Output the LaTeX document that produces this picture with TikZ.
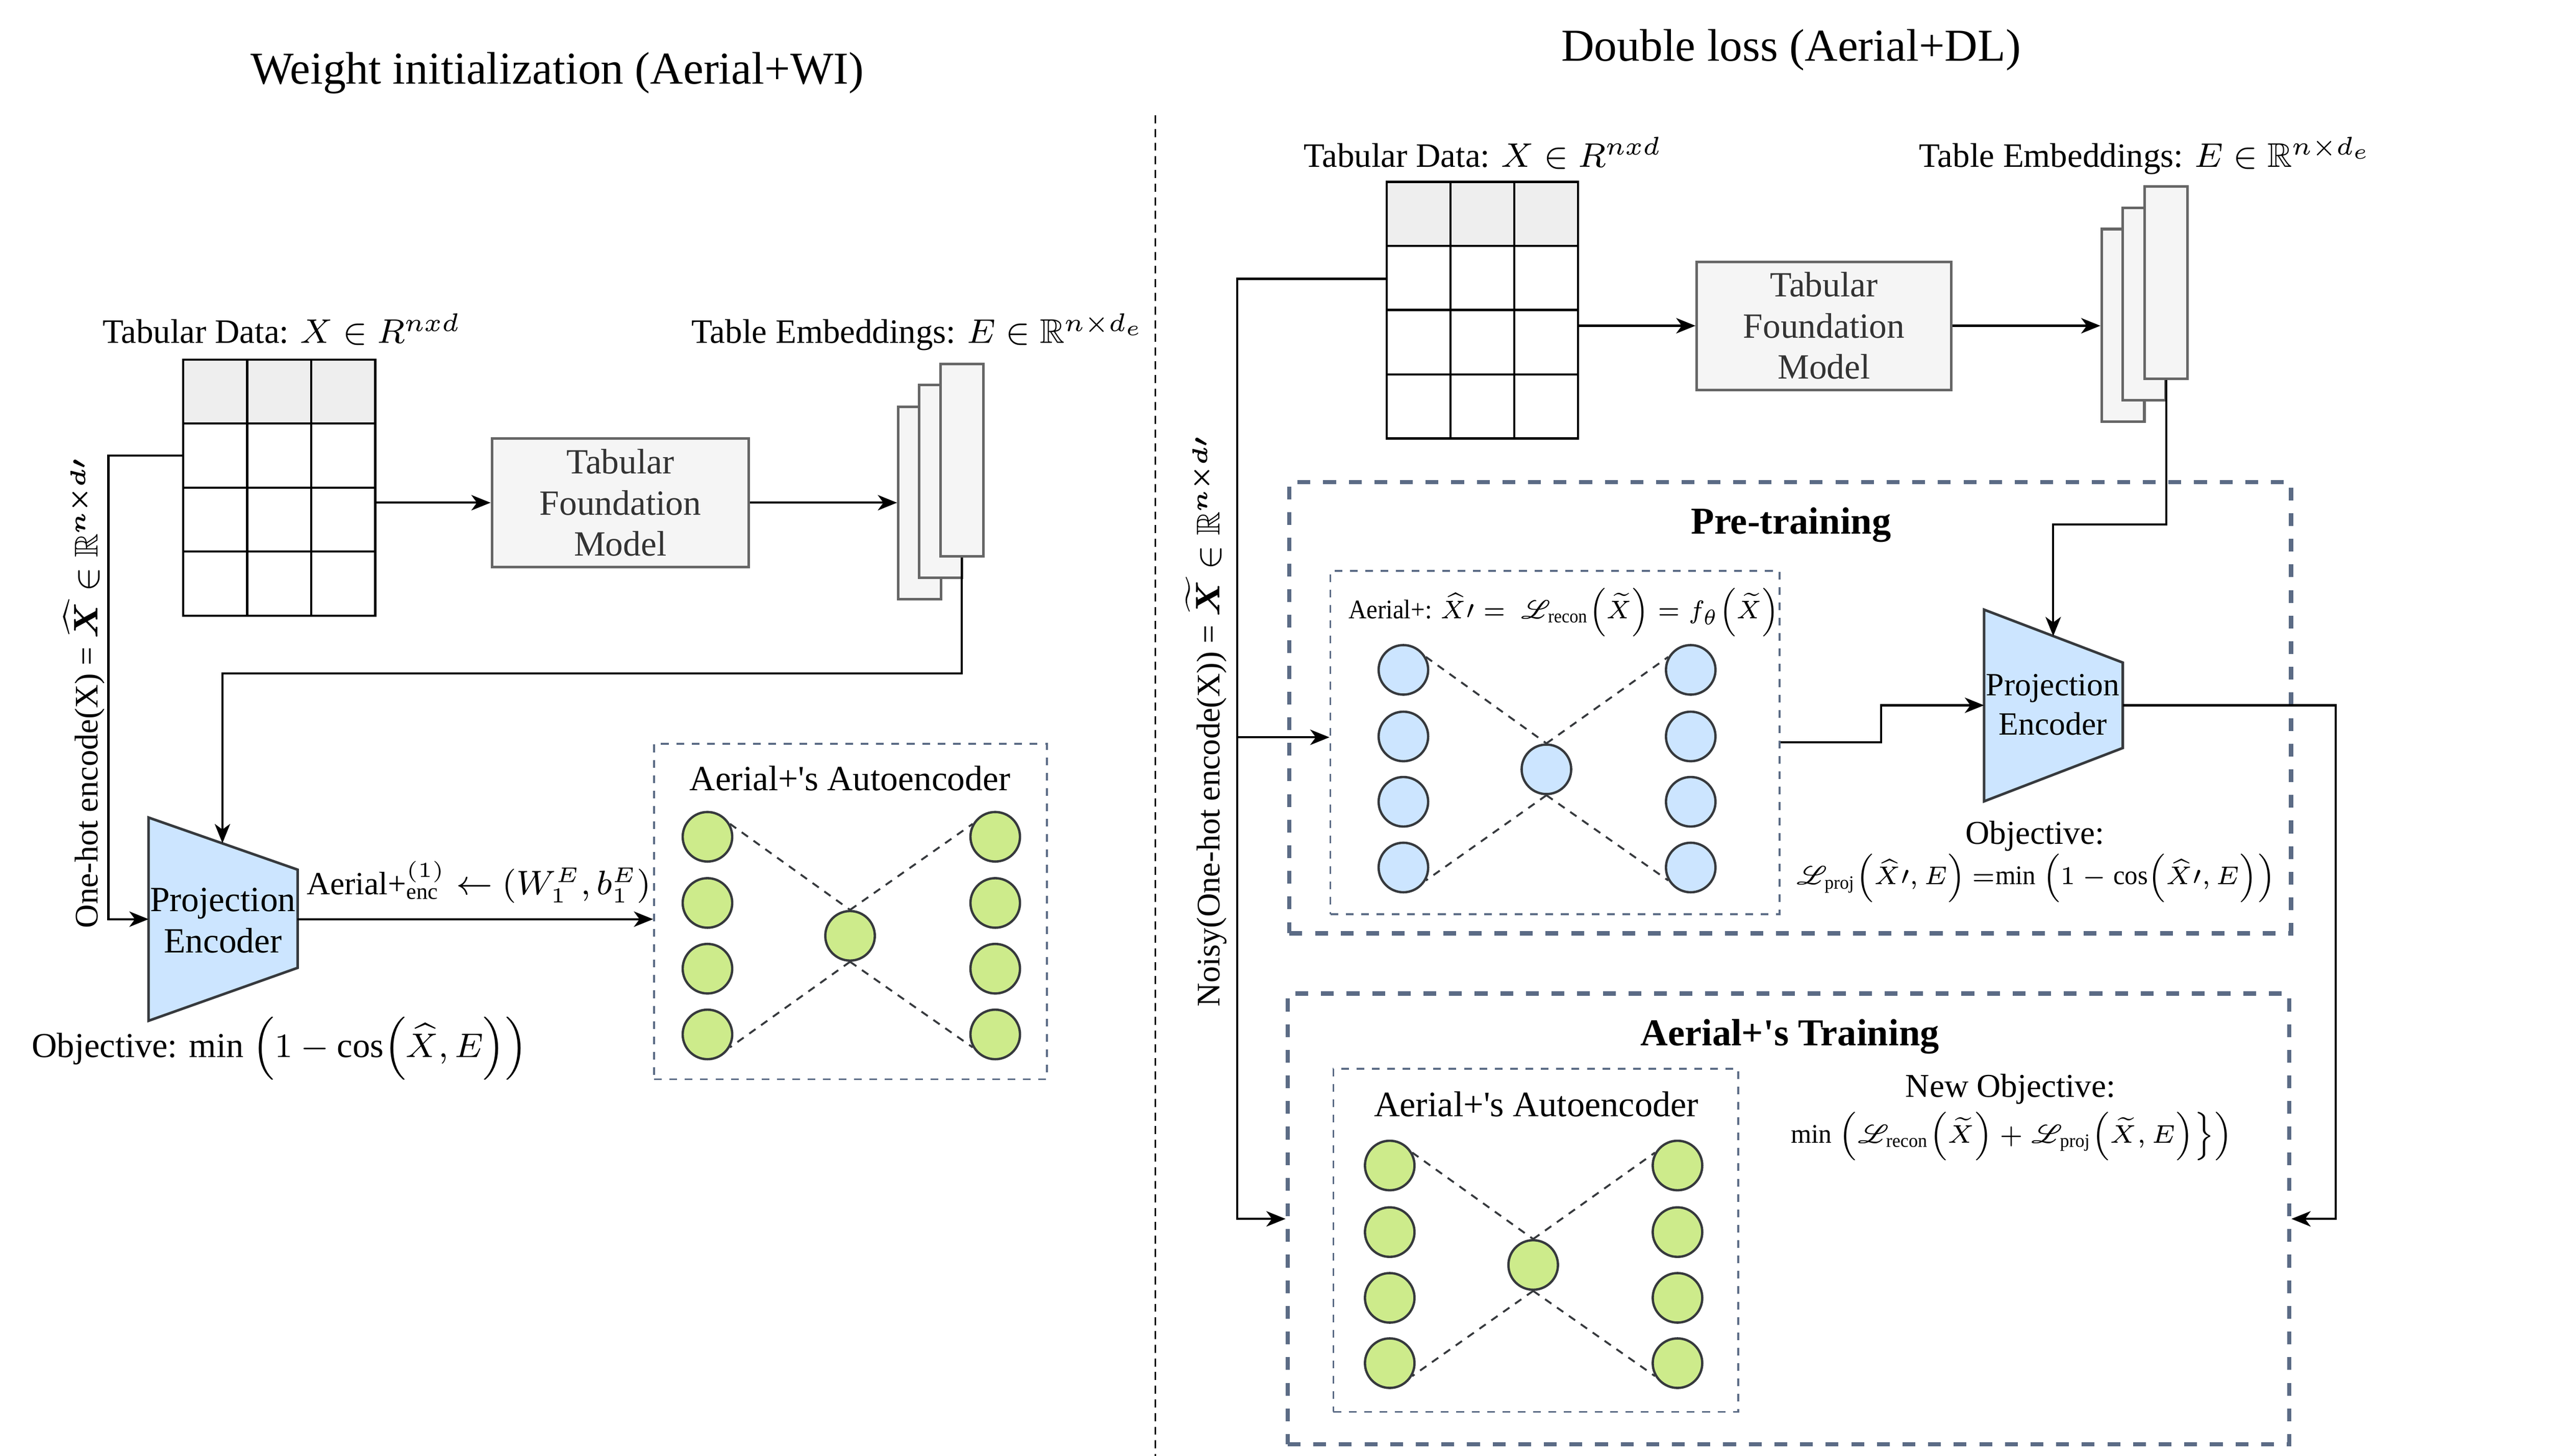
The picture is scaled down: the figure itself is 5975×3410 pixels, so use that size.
\documentclass[tikz,border=0pt]{standalone}
\usepackage{amsmath,amssymb,mathrsfs}
\usepackage{fontspec}
\setmainfont{Liberation Serif}
\usetikzlibrary{arrows.meta,calc}
\definecolor{cdash}{HTML}{5B6B85}
\definecolor{cenc}{HTML}{CCE5FF}
\definecolor{cgreen}{HTML}{CDEB8B}
\definecolor{cedge}{HTML}{36393D}
\definecolor{cgrayfill}{HTML}{F5F5F5}
\definecolor{cgrayline}{HTML}{666666}
\definecolor{chead}{HTML}{EEEEEE}
\definecolor{ctxt}{HTML}{333333}
\newcommand\sztitle{\fontsize{10.7}{12.8}\selectfont}
\newcommand\szlab{\fontsize{8.3}{9.6}\selectfont}
\newcommand\szhdr{\fontsize{8.0}{9.6}\selectfont}
\newcommand\szvert{\fontsize{7.7}{9.2}\selectfont}
\newcommand\szsmall{\fontsize{7.8}{9.2}\selectfont}
\newcommand\szmath{\fontsize{6.3}{7.6}\selectfont}
\newcommand\szhead{\fontsize{8.9}{10.5}\selectfont\bfseries}
\newcommand\apo{\textquotesingle}
\begin{document}
\begin{tikzpicture}[x=0.1pt,y=-0.1pt,
  conn/.style={line width=0.5pt,-{Stealth[length=4.5pt,width=3.6pt,inset=1.3pt]}},
  plainln/.style={line width=0.5pt},
  tbl/.style={draw,line width=0.5pt,inner sep=0pt},
  fmbox/.style={draw=cgrayline,fill=cgrayfill,line width=0.6pt,align=center,inner sep=0pt,text=ctxt,font=\szlab},
  stk/.style={draw=cgrayline,fill=cgrayfill,line width=0.6pt,inner sep=0pt,minimum width=10pt,minimum height=45.1pt},
  enc/.style={draw=cedge,fill=cenc,line width=0.6pt},
  bigdash/.style={draw=cdash,line width=1pt,dash pattern=on 3pt off 3pt},
  smalldash/.style={draw=cdash,line width=0.45pt,dash pattern=on 1.8pt off 1.8pt,inner sep=0pt},
  neuronG/.style={circle,draw=cedge,fill=cgreen,line width=0.55pt,minimum size=11.6pt,inner sep=0pt},
  neuronB/.style={circle,draw=cedge,fill=cenc,line width=0.55pt,minimum size=11.6pt,inner sep=0pt},
  wire/.style={draw=cedge,line width=0.45pt,dash pattern=on 1.8pt off 1.6pt},
  divider/.style={draw=black,line width=0.45pt,dash pattern=on 1.9pt off 1.3pt},
  txt/.style={inner sep=0pt,font=\szlab,align=center}
]
\useasboundingbox (0,0) rectangle (5975,3410);
\fill[white] (0,0) rectangle (5975,3410);

% ================= LEFT: Weight initialization =================
\node[txt,font=\sztitle,anchor=base] (tW) at (1305,196) {Weight initialization (Aerial+WI)};
\node[txt,font=\szhdr,anchor=base] (lTD) at (660,804) {Tabular Data: $X \in R^{nxd}$};
\node[txt,font=\szhdr,anchor=base] (lTE) at (2150,804) {Table Embeddings: $E \in \mathbb{R}^{n\times d_e}$};

% table
\fill[chead] (429,842) rectangle (879,992);
\node[tbl,minimum width=45pt,minimum height=60pt] (tabA) at (654,1142) {};
\foreach \xx in {579,729} \draw[plainln] (\xx,842) -- (\xx,1442);
\foreach \yy in {992,1142,1292} \draw[plainln] (429,\yy) -- (879,\yy);

% foundation model
\node[fmbox,minimum width=60.2pt,minimum height=30.1pt] (fmA) at (1453,1177.5) {Tabular\\Foundation\\Model};

% embeddings stack
\node[stk] (stA1) at (2154,1178) {};
\node[stk] (stA2) at (2203,1127.5) {};
\node[stk] (stA3) at (2253,1077.5) {};

% projection encoder
\draw[enc] (348,1915) -- (697,2037) -- (697,2267) -- (348,2391) -- cycle;
\node[txt,font=\szlab] (peA) at (522,2156) {Projection\\Encoder};
\coordinate (peAtop) at (521,1975);
\coordinate (peAwest) at (348,2153);
\coordinate (peAeast) at (697,2153);

% autoencoder box
\node[smalldash,draw,minimum width=92pt,minimum height=78.6pt] (aeA) at (1992,2135) {};
\node[txt,anchor=base] (aeAl) at (1991,1852) {Aerial+\apo s Autoencoder};
\foreach \n/\yy in {1/1960,2/2115,3/2269,4/2423} {
  \node[neuronG] (aL\n) at (1657,\yy) {};
  \node[neuronG] (aR\n) at (2331,\yy) {};
}
\node[neuronG] (aM) at (1991,2192) {};
\draw[wire] (aL1.30) -- (aM.north);
\draw[wire] (aM.north) -- (aR1.150);
\draw[wire] (aM.south) -- (aL4.330);
\draw[wire] (aM.south) -- (aR4.210);

% objective
\node[txt,font=\fontsize{8.2}{9.8}\selectfont] (objA) at (655,2456) {Objective: $\min\ \Bigl(1-\cos\Bigl(\widehat{X},E\Bigr)\Bigr)$};

% label over arrow
\node[txt,font=\fontsize{7.6}{9.2}\selectfont] (lblA) at (1122,2066) {Aerial+$^{(1)}_{\text{enc}} \leftarrow (W_1^E,b_1^E)$};

% vertical text
\node[txt,font=\szvert,rotate=90] (vtA) at (197,1622) {One-hot encode(X) = $\boldsymbol{\widehat{X}} \in \mathbb{R}^{\boldsymbol{n\times d\prime}}$};

% connectors left
\coordinate (tabArow) at (429,1067);
\coordinate (xA) at (254,1600);
\coordinate (bendA) at (521,1577);
\draw[conn] (tabArow) -| (xA) |- (peAwest);
\draw[conn] (tabA.east |- fmA.west) -- (fmA.west);
\draw[conn] (fmA.east) -- (stA1.west |- fmA.east);
\draw[conn] (stA3.south) |- (bendA) -- (peAtop);
\draw[conn] (peAeast) -- (aeA.west |- peAeast);

% ================= divider =================
\coordinate (dvT) at (2706,270);
\coordinate (dvB) at (2706,3410);
\draw[divider] (dvT) -- (dvB);

% ================= RIGHT: Double loss =================
\node[txt,font=\sztitle,anchor=base] (tD) at (4195,143) {Double loss (Aerial+DL)};
\node[txt,font=\szhdr,anchor=base] (rTD) at (3473,391) {Tabular Data: $X \in R^{nxd}$};
\node[txt,font=\szhdr,anchor=base] (rTE) at (5025,391) {Table Embeddings: $E \in \mathbb{R}^{n\times d_e}$};

% table
\fill[chead] (3248,426) rectangle (3696,576);
\node[tbl,minimum width=44.8pt,minimum height=60.1pt] (tabB) at (3472,726.5) {};
\foreach \xx in {3397,3547} \draw[plainln] (\xx,426) -- (\xx,1027);
\foreach \yy in {576,726,877} \draw[plainln] (3248,\yy) -- (3696,\yy);

\node[fmbox,minimum width=59.6pt,minimum height=30pt] (fmB) at (4272,763) {Tabular\\Foundation\\Model};

\node[stk] (stB1) at (4972.5,762) {};
\node[stk] (stB2) at (5021.5,712.5) {};
\node[stk] (stB3) at (5073.5,662) {};

% pre-training box
\node[bigdash,draw,minimum width=234.6pt,minimum height=105.7pt,inner sep=0pt] (preB) at (4193,1657.5) {};
\node[txt,font=\szhead,anchor=base] (preL) at (4195,1250) {Pre-training};
\node[smalldash,draw,minimum width=105.2pt,minimum height=80.4pt] (inPre) at (3642,1739) {};
\node[txt,font=\szmath,xscale=0.93] (fPre) at (3663,1434) {Aerial+: $\widehat{X}\prime=\ \mathscr{L}_{\text{recon}}\Bigl(\widetilde{X}\Bigr) = f_{\theta}\Bigl(\widetilde{X}\Bigr)$};
\foreach \n/\yy in {1/1569,2/1725,3/1878,4/2032} {
  \node[neuronB] (bL\n) at (3287,\yy) {};
  \node[neuronB] (bR\n) at (3960,\yy) {};
}
\node[neuronB] (bM) at (3622,1802) {};
\draw[wire] (bL1.30) -- (bM.north);
\draw[wire] (bM.north) -- (bR1.150);
\draw[wire] (bM.south) -- (bL4.330);
\draw[wire] (bM.south) -- (bR4.210);

% projection encoder right
\draw[enc] (4647,1428) -- (4972,1552) -- (4972,1752) -- (4647,1877) -- cycle;
\node[txt,font=\fontsize{7.6}{9.2}\selectfont] (peB) at (4808,1650) {Projection\\Encoder};
\coordinate (peBtop) at (4809,1490);
\coordinate (peBwest) at (4647,1652);
\coordinate (peBeast) at (4972,1652);

\node[txt,font=\szsmall,anchor=base] (objBl) at (4766,1977) {Objective:};
\node[txt,font=\szmath,xscale=0.965] (objB) at (4768,2057) {$\mathscr{L}_{\text{proj}}\Bigl(\widehat{X}\prime,E\Bigr)\ {=}\!\min\ \Bigl(1-\cos\Bigl(\widehat{X}\prime,E\Bigr)\Bigr)$};

% training box
\node[bigdash,draw,minimum width=234.6pt,minimum height=105.6pt,inner sep=0pt] (trB) at (4189,2855) {};
\node[txt,font=\szhead,anchor=base] (trL) at (4192,2449) {Aerial+\apo s Training};
\node[smalldash,draw,minimum width=94.8pt,minimum height=80.4pt] (aeB) at (3597,2905) {};
\node[txt,font=\fontsize{8.4}{10}\selectfont,anchor=base] (aeBl) at (3598,2615) {Aerial+\apo s Autoencoder};
\foreach \n/\yy in {1/2730,2/2886,3/3040,4/3193} {
  \node[neuronG] (gL\n) at (3255,\yy) {};
  \node[neuronG] (gR\n) at (3929,\yy) {};
}
\node[neuronG] (gM) at (3591,2963) {};
\draw[wire] (gL1.30) -- (gM.north);
\draw[wire] (gM.north) -- (gR1.150);
\draw[wire] (gM.south) -- (gL4.330);
\draw[wire] (gM.south) -- (gR4.210);

\node[txt,font=\szsmall,anchor=base] (nObl) at (4709,2570) {New Objective:};
\node[txt,font=\szmath,xscale=0.98] (nOb) at (4712,2662) {$\min\ \Bigl(\mathscr{L}_{\text{recon}}\Bigl(\widetilde{X}\Bigr)+\mathscr{L}_{\text{proj}}\Bigl(\widetilde{X},E\Bigr)\Bigr\}\Bigr)$};

% vertical text right
\node[txt,font=\szvert,rotate=90] (vtB) at (2825,1688) {Noisy(One-hot encode(X)) = $\boldsymbol{\widetilde{X}} \in \mathbb{R}^{\boldsymbol{n\times d\prime}}$};

% connectors right
\coordinate (tabBrow) at (3248,653);
\coordinate (xB) at (2898,2000);
\coordinate (jB) at (2898,1727);
\coordinate (bendB) at (4809,1228);
\coordinate (kB) at (4406,1700);
\coordinate (mB) at (5471,2300);
\draw[conn] (tabBrow) -| (xB) |- (trB.west);
\draw[conn] (jB) -- (inPre.west |- jB);
\draw[conn] (tabB.east |- fmB.west) -- (fmB.west);
\draw[conn] (fmB.east) -- (stB1.west |- fmB.east);
\draw[conn] (stB3.south) |- (bendB) -- (peBtop);
\draw[conn] (inPre.east) -| (kB) |- (peBwest);
\draw[conn] (peBeast) -| (mB) |- (trB.east);
\end{tikzpicture}
\end{document}
